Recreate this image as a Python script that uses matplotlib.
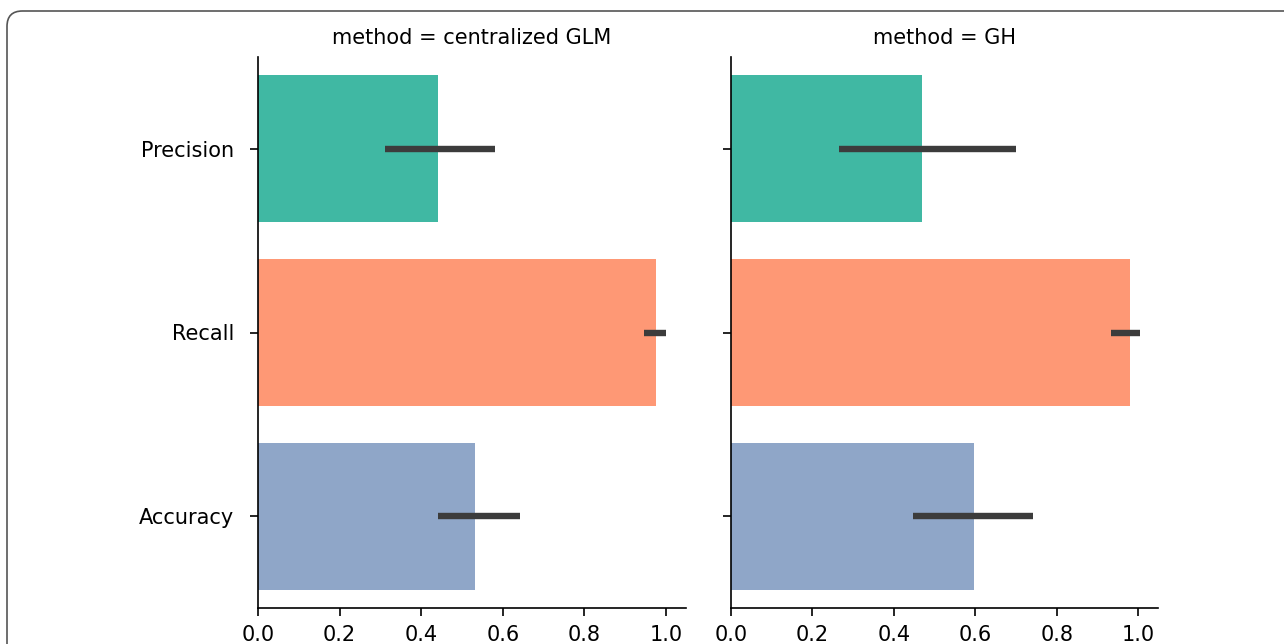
import matplotlib
matplotlib.use("Agg")
import matplotlib.pyplot as plt
from matplotlib.patches import FancyBboxPatch

metrics = ["Precision", "Recall", "Accuracy"]
methods = ["centralized GLM", "GH"]
bar_colors = ["#40b8a3", "#fe9875", "#8fa6c8"]

# mean and error-bar range per method, in metric order
glm_mean = [0.440, 0.975, 0.532]
glm_low = [0.312, 0.946, 0.442]
glm_high = [0.582, 1.000, 0.641]

gh_mean = [0.469, 0.979, 0.596]
gh_low = [0.265, 0.934, 0.446]
gh_high = [0.699, 1.005, 0.743]

xticks = [0.0, 0.2, 0.4, 0.6, 0.8, 1.0]

fig = plt.figure(figsize=(12.84, 6.44), dpi=100)

# journal-style rounded frame round the figure
frame = FancyBboxPatch(
    (7 / 1284, 0 - 0.05), 1.2, 1 - 11 / 644 + 0.05,
    boxstyle="round,pad=0,rounding_size=0.012",
    transform=fig.transFigure, facecolor="none",
    edgecolor="#555555", linewidth=1.2, mutation_aspect=2.0,
)
fig.patches.append(frame)

ax_left = fig.add_axes([258 / 1284, 36 / 644, 428 / 1284, 551 / 644])
ax_right = fig.add_axes([731 / 1284, 36 / 644, 427 / 1284, 551 / 644], sharey=ax_left)

panels = [
    (ax_left, methods[0], glm_mean, glm_low, glm_high),
    (ax_right, methods[1], gh_mean, gh_low, gh_high),
]

for ax, name, mean, low, high in panels:
    pos = list(range(len(metrics)))
    ax.barh(pos, mean, height=0.8, color=bar_colors)
    for p, lo, hi in zip(pos, low, high):
        ax.plot([lo, hi], [p, p], color="#3c3c3c", lw=4.6, solid_capstyle="butt")
    ax.set_xlim(0, 1.049)
    ax.set_ylim(2.5, -0.5)
    ax.set_xticks(xticks)
    ax.set_xticklabels([f"{t:.1f}" for t in xticks])
    ax.set_yticks(pos)
    ax.set_title(f"method = {name}", fontsize=15, pad=9)
    for side in ["top", "right"]:
        ax.spines[side].set_visible(False)
    for side in ["left", "bottom"]:
        ax.spines[side].set_linewidth(1.2)
    ax.tick_params(labelsize=15, length=6, width=1.2)
    ax.tick_params(axis="y", pad=11)
    ax.tick_params(axis="x", pad=6)

ax_left.set_yticklabels(metrics)
ax_right.tick_params(labelleft=False)

fig.savefig("out.png", dpi=100)
